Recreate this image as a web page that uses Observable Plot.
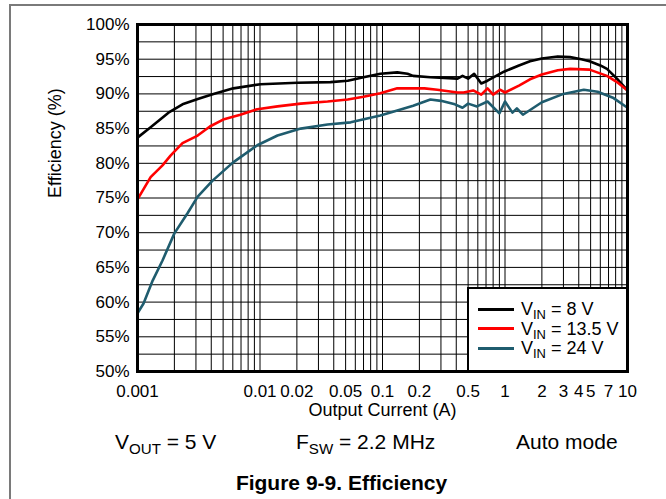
<!DOCTYPE html>
<html>
<head>
<meta charset="utf-8">
<script src="https://cdn.jsdelivr.net/npm/d3@7"></script>
<script src="https://cdn.jsdelivr.net/npm/@observablehq/plot@0.6"></script>
<style>
  body { margin: 0; background: #fff; font-family: "Liberation Sans", Arial, sans-serif; color: #000; }
  #wrap { position: relative; width: 666px; height: 499px; overflow: hidden; background: #fff; }
  #wrap svg { position: absolute; left: 0; top: 0; }
  .pageTop { position: absolute; left: 9px; top: 4px; width: 657px; height: 2px; background: #7a7a7a; }
  .pageLeft { position: absolute; left: 9px; top: 4px; width: 2px; height: 495px; background: #7a7a7a; }
  .txt { position: absolute; white-space: nowrap; line-height: 1; }
  .sub { font-size: 0.72em; position: relative; top: 0.32em; }
  #legend { position: absolute; left: 467px; top: 287px; width: 161px; height: 85px; background: #fff;
            border: 2px solid #000; box-sizing: border-box; }
  .legLine { position: absolute; left: 9px; width: 36px; height: 3px; }
  .legText { position: absolute; left: 52px; font-size: 18px; line-height: 1; white-space: nowrap; }
</style>
</head>
<body>
<div id="wrap">
  <div class="pageTop"></div>
  <div class="pageLeft"></div>
</div>
<script>
// ---- Data ----
const seriesNames = ["VIN = 8 V", "VIN = 13.5 V", "VIN = 24 V"];
const seriesSubLabels = [["V", "IN", " = 8 V"], ["V", "IN", " = 13.5 V"], ["V", "IN", " = 24 V"]];
const seriesColors = ["#000000", "#ff0000", "#1f5c6e"];

const current8 = [0.001, 0.00128, 0.00179, 0.00233, 0.00315, 0.00417, 0.00606, 0.0101, 0.0202, 0.0376, 0.052, 0.070, 0.096, 0.132, 0.16, 0.178, 0.246, 0.41, 0.45, 0.50, 0.56, 0.64, 0.72, 0.98, 1.3, 1.6, 2.0, 2.7, 3.4, 4.2, 4.9, 6.0, 6.8, 8.2, 10];
const eff8     = [83.7, 85.2, 87.3, 88.5, 89.3, 90.0, 90.8, 91.4, 91.6, 91.7, 91.9, 92.4, 92.9, 93.1, 92.9, 92.6, 92.4, 92.2, 92.6, 92.2, 92.9, 91.5, 91.9, 93.2, 94.1, 94.7, 95.1, 95.4, 95.3, 95.0, 94.7, 94.1, 93.6, 92.2, 90.5];

const current13 = [0.001, 0.00128, 0.0016, 0.00186, 0.00233, 0.0031, 0.0039, 0.005, 0.0069, 0.0095, 0.0139, 0.0215, 0.0356, 0.052, 0.07, 0.096, 0.132, 0.22, 0.28, 0.41, 0.46, 0.55, 0.64, 0.72, 0.8, 0.91, 1.0, 1.3, 1.6, 2.0, 2.7, 3.4, 4.9, 6.8, 8.2, 10];
const eff13     = [74.8, 78.0, 79.7, 81.1, 82.9, 84.0, 85.3, 86.3, 87.0, 87.8, 88.2, 88.6, 88.9, 89.2, 89.6, 90.1, 90.8, 90.8, 90.6, 90.2, 90.2, 90.5, 89.9, 90.8, 89.9, 90.6, 90.2, 91.2, 92.1, 92.8, 93.4, 93.6, 93.5, 92.6, 91.7, 90.5];

const current24 = [0.001, 0.00112, 0.00133, 0.0016, 0.002, 0.00256, 0.0031, 0.0041, 0.006, 0.0095, 0.0139, 0.0215, 0.0356, 0.055, 0.096, 0.132, 0.178, 0.246, 0.30, 0.39, 0.45, 0.50, 0.59, 0.72, 0.9, 1.0, 1.15, 1.25, 1.4, 2.0, 3.0, 4.4, 5.7, 7.7, 10];
const eff24     = [58.4, 59.8, 63.1, 66.0, 69.9, 72.8, 75.2, 77.5, 80.1, 82.6, 84.0, 85.0, 85.6, 85.9, 86.9, 87.6, 88.3, 89.2, 89.0, 88.5, 88.0, 88.6, 88.2, 88.9, 87.2, 88.9, 87.3, 87.9, 87.0, 88.8, 90.0, 90.6, 90.3, 89.4, 88.0];

const xTicks = [0.001, 0.01, 0.02, 0.05, 0.1, 0.2, 0.5, 1, 2, 3, 4, 5, 7, 10];
const yTicks = [50, 55, 60, 65, 70, 75, 80, 85, 90, 95, 100];
const yGrid = [50, 52.5, 55, 57.5, 60, 62.5, 65, 67.5, 70, 72.5, 75, 77.5, 80, 82.5, 85, 87.5, 90, 92.5, 95, 97.5, 100];
const decades = [0.001, 0.01, 0.1, 1];
const xGrid = [];
decades.forEach(d => { for (let m = 1; m <= 9; m++) xGrid.push(+(d * m).toPrecision(3)); });
xGrid.push(10);

const xLabel = "Output Current (A)";
const yLabel = "Efficiency (%)";

// ---- Build table ----
const rows = [];
[[current8, eff8], [current13, eff13], [current24, eff24]].forEach(([xs, ys], k) => {
  xs.forEach((x, i) => rows.push({series: seriesNames[k], current: x, eff: ys[i]}));
});

const FONT = '"Liberation Sans", Arial, sans-serif';

const chart = Plot.plot({
  width: 666,
  height: 425,
  marginLeft: 137,
  marginRight: 39,
  marginTop: 24,
  marginBottom: 54,
  style: {fontFamily: FONT, fontSize: "17px", color: "#000", background: "transparent", overflow: "visible"},
  x: {type: "log", domain: [0.001, 10], axis: null},
  y: {domain: [50, 100], axis: null},
  color: {domain: seriesNames, range: seriesColors},
  marks: [
    Plot.ruleY(yGrid, {stroke: "#000", strokeWidth: 1}),
    Plot.ruleX(xGrid, {stroke: "#000", strokeWidth: 1}),
    Plot.line(rows, {x: "current", y: "eff", z: "series", stroke: "series", strokeWidth: 2.6, curve: "linear"}),
    Plot.frame({stroke: "#000", strokeWidth: 3}),
    // x tick labels
    Plot.text(xTicks, {x: d => d, text: d => String(d), frameAnchor: "bottom", lineAnchor: "top", dy: 13, fontSize: 17, fill: "#000"}),
    // y tick labels
    Plot.text(yTicks, {y: d => d, text: d => d + "%", frameAnchor: "left", textAnchor: "end", dx: -8, fontSize: 17, fill: "#000"}),
    Plot.text([xLabel], {text: d => d, frameAnchor: "bottom", lineAnchor: "bottom", dy: 44, fontSize: 18, fill: "#000"}),
    Plot.text([yLabel], {text: d => d, frameAnchor: "left", rotate: -90, lineAnchor: "bottom", dx: -77, fontSize: 18, fill: "#000"})
  ]
});

const wrap = document.getElementById("wrap");
wrap.appendChild(chart);

// ---- Legend (HTML overlay) ----
const legend = document.createElement("div");
legend.id = "legend";
const rowCenters = [20, 39.5, 59];
seriesNames.forEach((name, i) => {
  const ln = document.createElement("div");
  ln.className = "legLine";
  ln.style.top = (rowCenters[i] - 1.5) + "px";
  ln.style.background = seriesColors[i];
  legend.appendChild(ln);
  const t = document.createElement("div");
  t.className = "legText";
  t.style.top = (rowCenters[i] - 9) + "px";
  const [a, s, b] = seriesSubLabels[i];
  t.innerHTML = a + '<span class="sub">' + s + '</span>' + b;
  legend.appendChild(t);
});
wrap.appendChild(legend);

// ---- Conditions line and caption ----
const conditions = [
  {x: 115, html: 'V<span class="sub">OUT</span> = 5 V'},
  {x: 296, html: 'F<span class="sub">SW</span> = 2.2 MHz'},
  {x: 516, html: 'Auto mode'}
];
conditions.forEach(c => {
  const d = document.createElement("div");
  d.className = "txt";
  d.style.left = c.x + "px";
  d.style.top = "431px";
  d.style.fontSize = "21px";
  d.innerHTML = c.html;
  wrap.appendChild(d);
});
const cap = document.createElement("div");
cap.className = "txt";
cap.style.left = "0px";
cap.style.width = "683px";
cap.style.textAlign = "center";
cap.style.top = "472px";
cap.style.fontSize = "21px";
cap.style.fontWeight = "bold";
cap.textContent = "Figure 9-9. Efficiency";
wrap.appendChild(cap);
</script>
</body>
</html>
